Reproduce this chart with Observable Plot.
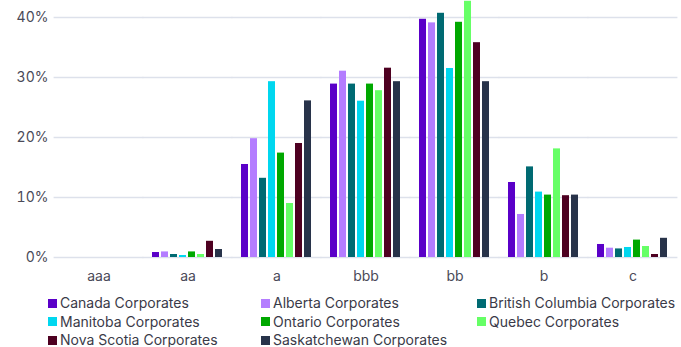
<!DOCTYPE html>
<html>
<head>
<meta charset="utf-8">
<script src="https://cdn.jsdelivr.net/npm/d3@7"></script>
<script src="https://cdn.jsdelivr.net/npm/@observablehq/plot@0.6"></script>
<style>
  html, body { margin: 0; padding: 0; background: #fff; }
  #chart { width: 681px; font-family: Inter, "Noto Sans", sans-serif; }
  .legend { display: grid; grid-template-columns: 213px 216px auto; padding-left: 48px; margin-top: 4px;
            font-family: Inter, "Noto Sans", sans-serif; font-size: 14px; line-height: 18.5px; color: #3a3a48; }
  .legend .item { display: flex; align-items: center; white-space: nowrap; }
  .legend .sw { width: 9px; height: 9px; margin-right: 3px; flex: none; }
</style>
</head>
<body>
<div id="chart"></div>
<script>
const ratings = ["aaa", "aa", "a", "bbb", "bb", "b", "c"];
const series = ["Canada Corporates", "Alberta Corporates", "British Columbia Corporates", "Manitoba Corporates",
                "Ontario Corporates", "Quebec Corporates", "Nova Scotia Corporates", "Saskatchewan Corporates"];
const colors = ["#5a00c8", "#b47dff", "#006a72", "#00d7ef", "#00a800", "#66ff66", "#4e0021", "#28334a"];
// values in % per series, in rating order aaa..c
const canada       = [0, 0.83, 15.5, 28.9, 39.7, 12.5, 2.17];
const alberta      = [0, 0.93, 19.8, 31.05, 39.1, 7.17, 1.55];
const britishCol   = [0, 0.5, 13.2, 28.9, 40.7, 15.1, 1.43];
const manitoba     = [0, 0.33, 29.3, 26.05, 31.5, 10.9, 1.67];
const ontario      = [0, 0.93, 17.4, 28.9, 39.2, 10.4, 2.9];
const quebec       = [0, 0.5, 9.0, 27.8, 42.7, 18.1, 1.83];
const novaScotia   = [0, 2.7, 19.0, 31.55, 35.8, 10.3, 0.5];
const saskatchewan = [0, 1.33, 26.1, 29.3, 29.3, 10.4, 3.2];
const yTicks = [0, 10, 20, 30, 40];

const valueLists = [canada, alberta, britishCol, manitoba, ontario, quebec, novaScotia, saskatchewan];
const data = [];
series.forEach((s, i) => ratings.forEach((r, j) => data.push({rating: r, series: s, value: valueLists[i][j]})));

const chart = Plot.plot({
  width: 681,
  height: 290,
  marginLeft: 52,
  marginRight: 2,
  marginTop: 0,
  marginBottom: 33,
  style: {fontFamily: "Inter, 'Noto Sans', sans-serif", fontSize: "14px", color: "#4a4a58", background: "#fff"},
  fx: {domain: ratings, paddingInner: 0.185, paddingOuter: 0.0925, label: null, axis: "bottom", tickSize: 0, tickPadding: 14},
  x: {domain: series, axis: null, paddingInner: 0.22, paddingOuter: 0.11},
  y: {domain: [0, 42.83], ticks: yTicks, tickSize: 0, tickPadding: 14, tickFormat: d => d + "%", label: null},
  color: {domain: series, range: colors},
  marks: [
    Plot.ruleY(yTicks, {stroke: "#dde1eb", strokeWidth: 1.5, insetLeft: -8.4, insetRight: -8.4}),
    Plot.barY(data, {fx: "rating", x: "series", y: "value", fill: "series"})
  ]
});
document.getElementById("chart").appendChild(chart);

const legend = d3.select("#chart").append("div").attr("class", "legend");
series.forEach((s, i) => {
  const it = legend.append("div").attr("class", "item");
  it.append("span").attr("class", "sw").style("background", colors[i]);
  it.append("span").text(s);
});
</script>
</body>
</html>
